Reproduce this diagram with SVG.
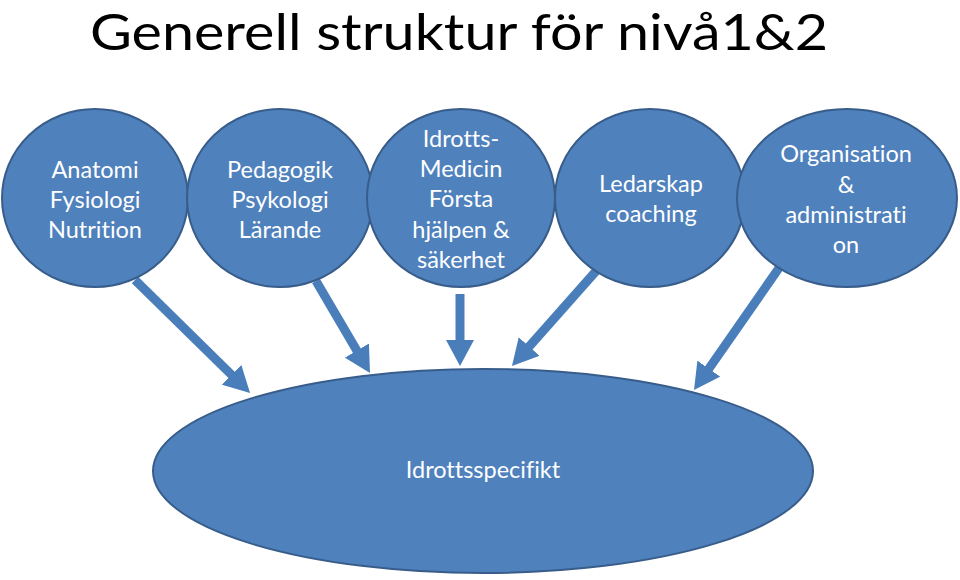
<svg xmlns="http://www.w3.org/2000/svg" width="960" height="580" viewBox="0 0 960 580">
<style>
.node{fill:#4f81bd;stroke:#385d8a;stroke-width:2}
.lbl{fill:#ffffff;font-family:Lato,"Liberation Sans",sans-serif;font-size:23.5px;text-anchor:middle;font-variant-ligatures:none}
.conn{stroke:#4a7ebb;stroke-width:9;fill:none;marker-end:url(#ah)}
.title{fill:#000;font-family:Lato,"Liberation Sans",sans-serif;font-size:50px;font-variant-ligatures:none}
</style>
<defs>
<marker id="ah" markerUnits="userSpaceOnUse" markerWidth="26" markerHeight="28" viewBox="0 0 26 28" refX="8" refY="14" orient="auto">
<path d="M0,0 L26,14 L0,28 z" fill="#4a7ebb"/>
</marker>
</defs>
<rect width="960" height="580" fill="#ffffff"/>
<text class="title" x="90" y="50" textLength="738" lengthAdjust="spacingAndGlyphs">Generell struktur för nivå1&amp;2</text>

<g id="idrottsspecifikt">
<ellipse class="node" cx="483" cy="471" rx="330" ry="102"/>
<text class="lbl" x="483" y="478">Idrottsspecifikt</text>
</g>

<g id="connectors">
<line class="conn" x1="135" y1="280" x2="237.2" y2="380.4"/>
<line class="conn" x1="316" y1="281" x2="360.9" y2="357.5"/>
<line class="conn" x1="460" y1="294" x2="460" y2="348"/>
<line class="conn" x1="597" y1="270" x2="523.9" y2="352.5"/>
<line class="conn" x1="779" y1="268" x2="704.3" y2="375.2"/>
</g>

<g id="anatomi">
<ellipse class="node" cx="95" cy="198" rx="93" ry="89"/>
<text class="lbl" x="95" y="178">Anatomi</text>
<text class="lbl" x="95" y="208">Fysiologi</text>
<text class="lbl" x="95" y="238">Nutrition</text>
</g>

<g id="pedagogik">
<ellipse class="node" cx="280" cy="198" rx="93" ry="89"/>
<text class="lbl" x="280" y="178">Pedagogik</text>
<text class="lbl" x="280" y="208">Psykologi</text>
<text class="lbl" x="280" y="238">Lärande</text>
</g>

<g id="idrottsmedicin">
<ellipse class="node" cx="461" cy="198" rx="94" ry="89"/>
<text class="lbl" x="461" y="147">Idrotts-</text>
<text class="lbl" x="461" y="177">Medicin</text>
<text class="lbl" x="461" y="207">Första</text>
<text class="lbl" x="461" y="238">hjälpen &amp;</text>
<text class="lbl" x="461" y="268">säkerhet</text>
</g>

<g id="ledarskap">
<ellipse class="node" cx="650" cy="198" rx="95" ry="89"/>
<text class="lbl" x="651" y="192">Ledarskap</text>
<text class="lbl" x="651" y="222">coaching</text>
</g>

<g id="organisation">
<ellipse class="node" cx="847" cy="198" rx="110" ry="89"/>
<text class="lbl" x="846" y="162">Organisation</text>
<text class="lbl" x="846" y="193">&amp;</text>
<text class="lbl" x="846" y="223">administrati</text>
<text class="lbl" x="846" y="253">on</text>
</g>
</svg>
